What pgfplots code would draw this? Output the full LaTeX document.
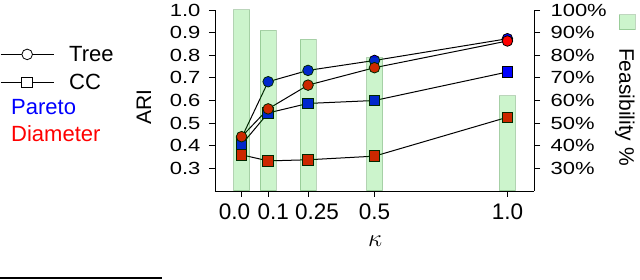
\documentclass[border=0pt]{standalone}
\usepackage{pgfplots}
\pgfplotsset{compat=1.18}
\usepackage{fontspec}
\setmainfont{Liberation Sans}
\newcommand{\sq}[1]{\scalebox{1}[0.8]{#1}}
\definecolor{barg}{RGB}{0,200,0}
\definecolor{bare}{RGB}{0,90,0}
\begin{document}
\begin{tikzpicture}
\useasboundingbox (0,0) rectangle (640pt,280pt);
\begin{axis}[
 at={(215pt,89pt)}, anchor=south west,
 scale only axis, width=319pt, height=181pt,
 xmin=-0.1, xmax=1.1, ymin=0.2, ymax=1.0,
 axis x line*=bottom, axis y line*=left,
 axis line style={line width=0.9pt, black},
 tick align=outside, major tick length=6pt,
 every tick/.style={black, line width=0.9pt},
 xtick={0,0.1,0.25,0.5,1},
 xticklabels={\hspace*{-14pt}0.0,\hspace*{10pt}0.1,\hspace*{18pt}0.25,0.5,1.0},
 xticklabel style={font=\fontsize{22.5}{24}\selectfont, yshift=-3pt},
 ytick={0.3,0.4,0.5,0.6,0.7,0.8,0.9,1.0},
 yticklabels={\sq{0.3},\sq{0.4},\sq{0.5},\sq{0.6},\sq{0.7},\sq{0.8},\sq{0.9},\sq{1.0}},
 yticklabel style={font=\fontsize{22}{24}\selectfont, xshift=-5pt},
 ylabel={ARI},
 ylabel style={at={(axis description cs:-0.223,0.464)}, anchor=center, font=\fontsize{21}{23}\selectfont},
 xlabel={$\kappa$},
 xlabel style={at={(axis description cs:0.502,-0.275)}, anchor=center, font=\fontsize{27}{29}\selectfont},
 clip=false,
 legend style={at={(axis description cs:-0.674,0.80)}, anchor=north west, draw=none, fill=none,
   inner sep=0pt, column sep=15pt, row sep=12pt, font=\fontsize{22}{24}\selectfont,
   nodes={inner sep=0pt, text height=15pt, text depth=1pt}},
 legend cell align=left,
 legend image code/.code={\draw[#1,mark=none] (0pt,0pt) -- (53pt,0pt); \draw[#1] plot coordinates {(26.5pt,0pt)};},
]
\addlegendimage{black, line width=1pt, mark=*, mark size=5.3pt, mark options={fill=white, line width=0.8pt}}
\addlegendentry{Tree}
\addlegendimage{black, line width=1pt, mark=square*, mark size=5.3pt, mark options={fill=white, line width=0.8pt}}
\addlegendentry{CC}
% Tree, Pareto
\addplot[forget plot, black, line width=1pt, mark=*, mark size=5.3pt, mark options={fill=blue, draw=black, line width=0.8pt}]
 coordinates {(0,0.435) (0.1,0.683) (0.25,0.733) (0.5,0.777) (1.0,0.873)};
% CC, Pareto
\addplot[forget plot, black, line width=1pt, mark=square*, mark size=5.3pt, mark options={fill=blue, draw=black, line width=0.8pt}]
 coordinates {(0,0.405) (0.1,0.545) (0.25,0.587) (0.5,0.600) (1.0,0.726)};
% CC, Diameter
\addplot[forget plot, black, line width=1pt, mark=square*, mark size=5.3pt, mark options={fill=red, draw=black, line width=0.8pt}]
 coordinates {(0,0.360) (0.1,0.333) (0.25,0.338) (0.5,0.354) (1.0,0.526)};
% Tree, Diameter
\addplot[forget plot, black, line width=1pt, mark=*, mark size=5.3pt, mark options={fill=red, draw=black, line width=0.8pt}]
 coordinates {(0,0.440) (0.1,0.563) (0.25,0.668) (0.5,0.745) (1.0,0.863)};
\end{axis}
\begin{axis}[
 at={(215pt,89pt)}, anchor=south west,
 scale only axis, width=319pt, height=181pt,
 xmin=-0.1, xmax=1.1, ymin=20, ymax=100,
 axis x line=none, axis y line*=right, xtick=\empty,
 axis line style={line width=0.9pt, black},
 tick align=outside, major tick length=6pt,
 every tick/.style={black, line width=0.9pt},
 ytick={30,40,50,60,70,80,90,100},
 yticklabels={\sq{30\%},\sq{40\%},\sq{50\%},\sq{60\%},\sq{70\%},\sq{80\%},\sq{90\%},\sq{100\%}},
 yticklabel style={font=\fontsize{22}{24}\selectfont, xshift=7pt},
 ylabel={Feasibility \%},
 ylabel style={at={(axis description cs:1.285,0.464)}, anchor=center, rotate=180, font=\fontsize{21}{23}\selectfont},
]
\addplot[ybar, bar width=16pt, fill=barg, fill opacity=0.2, draw=bare, draw opacity=0.25, line width=1pt]
 coordinates {(0,100) (0.1,91) (0.25,87) (0.5,79) (1.0,62)};
\end{axis}
\draw[line width=1.2pt] (0,2pt) -- (162pt,2pt);
\draw[fill=barg, fill opacity=0.2, draw=bare, draw opacity=0.25, line width=1pt] (619pt,250pt) rectangle (635pt,265pt);
\node[anchor=base west, inner sep=0pt, text=blue, font=\fontsize{22}{24}\selectfont] at (11pt,165pt) {Pareto};
\node[anchor=base west, inner sep=0pt, text=red, font=\fontsize{22}{24}\selectfont] at (11pt,138pt) {Diameter};
\end{tikzpicture}
\end{document}
